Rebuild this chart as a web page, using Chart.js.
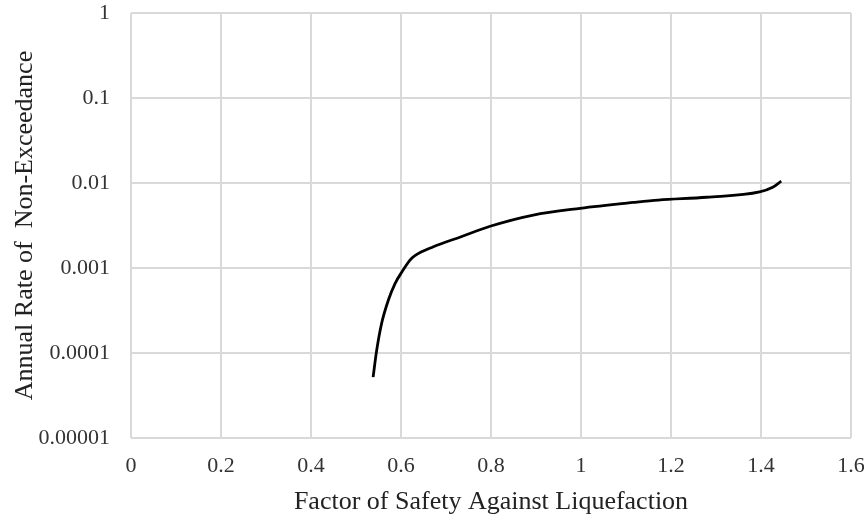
<!DOCTYPE html>
<html>
<head>
<meta charset="utf-8">
<script src="https://cdn.jsdelivr.net/npm/chart.js@4/dist/chart.umd.min.js"></script>
<style>
html,body{margin:0;padding:0;background:#fff;}
#wrap{width:868px;height:522px;position:relative;}
</style>
</head>
<body>
<div id="wrap"><canvas id="c" width="868" height="522"></canvas></div>
<script>
const factorOfSafety = [0.538, 0.546, 0.557, 0.572, 0.587, 0.602, 0.620, 0.631, 0.672, 0.735, 0.798, 0.894, 0.998, 1.116, 1.172, 1.279, 1.397, 1.426, 1.445];
const annualRate     = [5.2e-5, 1.08e-4, 2.24e-4, 4.2e-4, 6.6e-4, 9.0e-4, 1.24e-3, 1.40e-3, 1.78e-3, 2.35e-3, 3.1e-3, 4.2e-3, 5.04e-3, 5.9e-3, 6.3e-3, 6.8e-3, 7.85e-3, 8.9e-3, 1.05e-2];
const yTicks = [0.00001, 0.0001, 0.001, 0.01, 0.1, 1];
const xTicks = [0, 0.2, 0.4, 0.6, 0.8, 1, 1.2, 1.4, 1.6];
const yTickLabels = ["0.00001", "0.0001", "0.001", "0.01", "0.1", "1"];
const xTickLabels = ["0", "0.2", "0.4", "0.6", "0.8", "1", "1.2", "1.4", "1.6"];

const pts = factorOfSafety.map((x, i) => ({x: x, y: annualRate[i]}));
const font = "'Liberation Serif', 'Times New Roman', serif";

new Chart(document.getElementById('c'), {
  type: 'line',
  data: {
    datasets: [{
      data: pts,
      borderColor: '#000',
      borderWidth: 2.8,
      pointRadius: 0,
      fill: false,
      cubicInterpolationMode: 'monotone'
    }]
  },
  options: {
    responsive: false,
    animation: false,
    devicePixelRatio: 1,
    layout: {padding: {left: 12, right: 17, top: 0, bottom: 4}},
    plugins: {legend: {display: false}, tooltip: {enabled: false}},
    scales: {
      x: {
        type: 'linear',
        min: 0, max: 1.6,
        afterBuildTicks: s => { s.ticks = xTicks.map(v => ({value: v})); },
        afterFit: s => { s.height = 80; s.paddingLeft = 0; s.paddingRight = 0; },
        ticks: {
          callback: (v, i) => xTickLabels[i],
          font: {family: font, size: 22},
          color: '#333',
          padding: 15,
          maxRotation: 0
        },
        grid: {color: '#d9d9d9', lineWidth: 2, drawTicks: false},
        border: {display: false},
        title: {display: true, text: 'Factor of Safety Against Liquefaction', font: {family: font, size: 26}, color: '#222', padding: {top: 7, bottom: 0}}
      },
      y: {
        type: 'logarithmic',
        min: 0.00001, max: 1,
        afterBuildTicks: s => { s.ticks = yTicks.map(v => ({value: v})); },
        afterFit: s => { s.width = 119; s.paddingTop = 13; s.paddingBottom = 0; },
        ticks: {
          callback: (v, i) => yTickLabels[i],
          font: {family: font, size: 22},
          color: '#333',
          padding: 21
        },
        grid: {color: '#d9d9d9', lineWidth: 2, drawTicks: false},
        border: {display: false},
        title: {display: true, text: 'Annual Rate of  Non-Exceedance', font: {family: font, size: 26, lineHeight: 1}, color: '#222', padding: {top: 0, bottom: 0}}
      }
    }
  }
});
</script>
</body>
</html>
